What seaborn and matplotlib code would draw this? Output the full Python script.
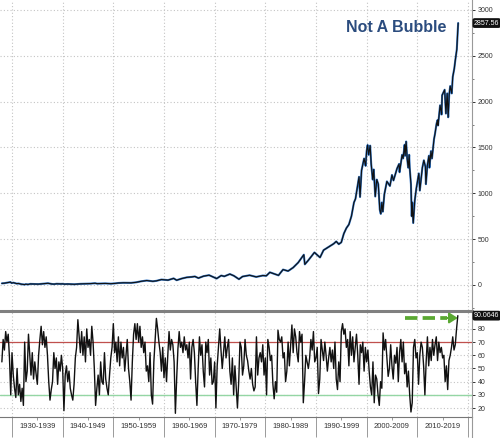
import numpy as np
import pandas as pd
import matplotlib
matplotlib.use("Agg")
import matplotlib.pyplot as plt
import matplotlib.transforms as mtransforms
from matplotlib.lines import Line2D
import seaborn as sns

# --- S&P 500 level (decimal year, index) ---
sp_dates = [
    1928.0, 1928.5, 1929.0, 1929.7, 1929.9, 1930.3, 1930.9, 1931.3, 1931.9, 1932.5,
    1932.7, 1933.2, 1933.6, 1934.0, 1935.2, 1936.0, 1937.1, 1937.9, 1938.3, 1938.8,
    1939.6, 1940.0, 1940.4, 1941.0, 1942.3, 1943.5, 1944.5, 1945.5, 1946.4, 1946.8,
    1947.5, 1948.4, 1949.5, 1950.5, 1951.0, 1952.0, 1953.5, 1954.5, 1955.5, 1956.6,
    1957.8, 1958.5, 1959.5, 1960.8, 1961.9, 1962.5, 1963.5, 1964.5, 1965.5, 1966.1,
    1966.8, 1967.8, 1968.9, 1970.4, 1971.3, 1971.9, 1973.0, 1973.8, 1974.8, 1975.5,
    1976.9, 1978.2, 1979.5, 1980.2, 1980.9, 1982.6, 1983.5, 1984.5, 1985.5, 1986.5,
    1987.6, 1987.8, 1988.5, 1989.7, 1990.2, 1990.8, 1991.5, 1992.5, 1993.5, 1994.0,
    1994.5, 1995.0, 1995.5, 1996.0, 1996.5, 1997.0, 1997.5, 1997.8, 1998.2, 1998.5,
    1998.7, 1999.0, 1999.5, 1999.8, 2000.0, 2000.2, 2000.4, 2000.7, 2000.9, 2001.2,
    2001.4, 2001.7, 2002.0, 2002.3, 2002.5, 2002.6, 2002.8, 2003.0, 2003.2, 2003.5,
    2004.0, 2004.6, 2005.0, 2005.3, 2006.0, 2006.4, 2006.5, 2007.0, 2007.2, 2007.5,
    2007.6, 2007.8, 2008.0, 2008.2, 2008.4, 2008.5, 2008.75, 2008.9, 2009.0, 2009.2,
    2009.5, 2009.8, 2010.0, 2010.3, 2010.5, 2011.0, 2011.3, 2011.6, 2011.7, 2012.0,
    2012.3, 2012.4, 2012.7, 2012.9, 2013.3, 2013.5, 2013.8, 2014.0, 2014.1, 2014.5,
    2014.8, 2014.9, 2015.4, 2015.65, 2015.9, 2016.1, 2016.3, 2016.5, 2016.8, 2017.0,
    2017.3, 2017.5, 2017.8, 2018.07,
]
sp_values = [
    17.5, 19.5, 24, 31.5, 21, 25, 15, 16, 8, 4.5,
    8.5, 6, 11.5, 11, 9, 13.5, 18.5, 10.5, 9, 13,
    11.5, 12.3, 9, 10.5, 7.5, 12, 13, 15, 19, 14.5,
    15.5, 17, 14, 18, 21.5, 24, 23, 29, 40, 48.5,
    40, 45, 59, 53, 72, 52, 70, 83, 88, 93,
    75, 96, 107, 70, 103, 94, 119, 100, 63, 92,
    106, 88, 103, 100, 138, 105, 168, 152, 190, 245,
    330, 225, 270, 355, 330, 300, 380, 415, 450, 475,
    445, 465, 560, 620, 660, 750, 900, 940, 1080, 1180,
    960, 1250, 1380, 1300, 1460, 1527, 1420, 1520, 1320, 1150,
    1260, 965, 1150, 1100, 900, 820, 776, 900, 800, 990,
    1130, 1080, 1200, 1140, 1270, 1320, 1230, 1420, 1380, 1530,
    1410, 1565, 1380, 1280, 1420, 1280, 1100, 750, 900, 676,
    920, 1050, 1115, 1217, 1030, 1280, 1360, 1290, 1100, 1310,
    1410, 1280, 1460, 1380, 1590, 1650, 1760, 1800, 1740, 1960,
    1860, 2070, 2130, 1870, 2090, 1830, 2080, 2170, 2090, 2270,
    2360, 2450, 2570, 2857.56,
]

# --- RSI, four readings per year starting 1928, last one = Jan 2018 ---
rsi_start = 1928.0
rsi_per_year = 4
rsi_values = [
    55, 72, 64, 78,  70, 76, 58, 30,     # 1928-29
    62, 45, 35, 28,  50, 30, 38, 25,     # 1930-31
    35, 22, 70, 40,  48, 76, 60, 45,
    62, 42, 55, 46,  38, 60, 72, 82,
    68, 78, 66, 74,  60, 40, 26, 34,
    40, 62, 50, 58,  38, 55, 48, 60,
    50, 18, 45, 52,  40, 48, 35, 30,     # 1940-41
    26, 38, 58, 66,  87, 74, 62, 78,
    60, 74, 55, 80,  66, 72, 60, 82,
    70, 50, 22, 35,  45, 30, 55, 40,
    38, 62, 42, 35,  30, 45, 58, 66,
    84, 62, 70, 55,  74, 52, 70, 58,     # 1950-51
    66, 48, 60, 72,  50, 40, 26, 55,
    76, 84, 72, 84,  70, 82, 66, 74,
    62, 70, 48, 52,  40, 62, 30, 23,
    55, 72, 88, 80,  70, 62, 48, 66,
    43, 58, 40, 60,  78, 64, 72, 68,     # 1960-61
    55, 16, 42, 65,  78, 66, 70, 62,
    74, 64, 68, 58,  70, 42, 66, 72,
    62, 40, 22, 50,  74, 60, 68, 48,
    36, 70, 62, 72,  45, 58, 38, 40,
    55, 20, 52, 66,  80, 64, 50, 62,     # 1970-71
    74, 58, 66, 72,  48, 38, 58, 30,
    52, 36, 20, 40,  70, 66, 45, 52,
    72, 60, 56, 48,  42, 50, 38, 33,
    36, 74, 45, 58,  62, 55, 68, 45,
    58, 30, 72, 66,  56, 60, 38, 27,     # 1980-81
    40, 32, 79, 72,  70, 74, 58, 62,
    40, 48, 70, 52,  68, 83, 62, 80,
    74, 62, 55, 78,  70, 76, 24, 40,
    60, 55, 50, 58,  72, 64, 78, 55,
    58, 66, 31, 42,  72, 64, 56, 70,     # 1990-91
    60, 48, 58, 66,  55, 64, 50, 70,
    42, 34, 55, 40,  78, 84, 76, 80,
    66, 72, 52, 78,  60, 74, 55, 66,
    76, 60, 38, 68,  62, 70, 48, 66,
    55, 64, 48, 36,  30, 55, 24, 45,     # 2000-01
    42, 30, 22, 40,  35, 77, 64, 72,
    58, 44, 50, 68,  52, 42, 60, 54,
    66, 40, 62, 72,  55, 70, 46, 54,
    36, 48, 30, 17,  24, 66, 72, 58,
    62, 38, 60, 70,  66, 52, 30, 55,     # 2010-11
    74, 52, 66, 56,  72, 60, 68, 74,
    56, 70, 62, 66,  58, 60, 40, 52,
    34, 56, 60, 66,  74, 64, 68, 80,
    90.0646,                             # Jan 2018
]

decade_edges = [1930, 1940, 1950, 1960, 1970, 1980, 1990, 2000, 2010, 2020]
decade_labels = ["1930-1939", "1940-1949", "1950-1959", "1960-1969", "1970-1979",
                 "1980-1989", "1990-1999", "2000-2009", "2010-2019"]
price_ticks = [0, 500, 1000, 1500, 2000, 2500, 3000]
rsi_ticks = [20, 30, 40, 50, 60, 70, 80]
last_price = 2857.56
last_rsi = 90.0646

price_df = pd.DataFrame({"date": sp_dates, "spx": sp_values})
rsi_df = pd.DataFrame({"date": rsi_start + np.arange(len(rsi_values)) / rsi_per_year,
                       "rsi": rsi_values})

sns.set_theme(style="white")
plt.rcParams['font.family'] = ['Liberation Sans', 'DejaVu Sans']

W, H = 500, 438
fig = plt.figure(figsize=(W / 100, H / 100), dpi=100)
ax = fig.add_axes([0, 1 - 310 / H, 472 / W, 310 / H])
ax2 = fig.add_axes([0, 1 - 417 / H, 472 / W, 106 / H])

grid_kw = dict(color="#c4c4c4", linestyle=(0, (1, 2)), linewidth=0.8)
xmin, xmax = 1927.63, 2020.8

# ---------- top panel: index level ----------
sns.lineplot(data=price_df, x="date", y="spx", ax=ax, color="#2f73c4", lw=1.5, zorder=3)
sns.lineplot(data=price_df, x="date", y="spx", ax=ax, color="#111111", lw=0.8, zorder=4)
ax.set_xlim(xmin, xmax)
ax.set_ylim(-273, 3109)
ax.set_xticks(decade_edges)
ax.set_yticks(price_ticks)
ax.set_yticks(np.arange(-250, 3001, 250), minor=True)
ax.set_yticklabels([str(t) for t in price_ticks])
ax.yaxis.tick_right()
ax.tick_params(axis="x", length=0, labelbottom=False)
ax.tick_params(axis="y", which="major", direction="out", length=2.5, width=0.7,
               pad=1.5, labelsize=5, colors="#333333")
ax.tick_params(axis="y", which="minor", direction="out", length=1.5, width=0.6,
               color="#666666", right=True, left=False)
ax.grid(True, which="major", **grid_kw)
for s in ["left", "top", "bottom"]:
    ax.spines[s].set_visible(False)
ax.spines["right"].set_color("#999999")
ax.spines["right"].set_linewidth(0.8)
ax.set_xlabel("")
ax.set_ylabel("")

fig.text(346 / W, 1 - 27.5 / H, "Not A Bubble", ha="left", va="center",
         fontsize=11.5, fontweight="bold", color="#2b4c7e")

right_tr = mtransforms.blended_transform_factory(ax.transAxes, ax.transData)
ax.text(1.004, last_price, f"{last_price:.2f}", transform=right_tr, ha="left", va="center",
        fontsize=5, color="white", clip_on=False,
        bbox=dict(boxstyle="round,pad=0.2,rounding_size=0.3", fc="#111111", ec="none"))

# ---------- bottom panel: RSI ----------
ax2.axhline(70, color="#c0504d", lw=0.9, zorder=2)
ax2.axhline(30, color="#94d6a4", lw=1.0, zorder=2)
sns.lineplot(data=rsi_df, x="date", y="rsi", ax=ax2, color="#111111", lw=1.0, zorder=3)
ax2.set_xlim(xmin, xmax)
ax2.set_ylim(13.2, 93.6)
ax2.set_yticks(rsi_ticks)
ax2.yaxis.tick_right()
ax2.tick_params(axis="y", direction="out", length=2.5, width=0.7, pad=1.5,
                labelsize=5, colors="#333333")
ax2.set_xticks(decade_edges)
ax2.set_xticks([d + 5 for d in decade_edges[:-1]], minor=True)
ax2.set_xticklabels(decade_labels, minor=True)
ax2.tick_params(axis="x", which="major", direction="out", length=14.5, width=0.7,
                color="#9a9a9a", labelbottom=False, bottom=True)
ax2.tick_params(axis="x", which="minor", direction="out", length=2.2, width=0.7,
                color="#9a9a9a", pad=1.8, labelsize=5.5, labelcolor="#333333", bottom=True)
ax2.grid(True, which="major", **grid_kw)
ax2.spines["left"].set_visible(False)
ax2.spines["top"].set_color("#808080")
ax2.spines["top"].set_linewidth(2.2)
ax2.spines["bottom"].set_color("#777777")
ax2.spines["bottom"].set_linewidth(0.8)
ax2.spines["right"].set_color("#999999")
ax2.spines["right"].set_linewidth(0.8)
ax2.set_xlabel("")
ax2.set_ylabel("")

green = "#5aa832"
ax2.plot([2007.6, 2015.9], [88.3, 88.3], color=green, lw=2.7, dashes=(3.3, 1.4),
         solid_capstyle="butt", zorder=5)
ax2.annotate("", xy=(2018.0, 88.3), xytext=(2015.8, 88.3),
             arrowprops=dict(arrowstyle="-|>,head_length=0.55,head_width=0.35",
                             mutation_scale=9, color=green, lw=1.5,
                             shrinkA=0, shrinkB=0), zorder=5)

right_tr2 = mtransforms.blended_transform_factory(ax2.transAxes, ax2.transData)
ax2.text(1.004, last_rsi, f"{last_rsi:.4f}", transform=right_tr2, ha="left", va="center",
         fontsize=5, color="white", clip_on=False,
         bbox=dict(boxstyle="round,pad=0.2,rounding_size=0.3", fc="#111111", ec="none"))

# right spine runs on through the date band
fig.add_artist(Line2D([472 / W, 472 / W], [0, 1 - 417 / H], transform=fig.transFigure,
                      color="#999999", lw=0.8))

fig.savefig("out.png", dpi=100)
